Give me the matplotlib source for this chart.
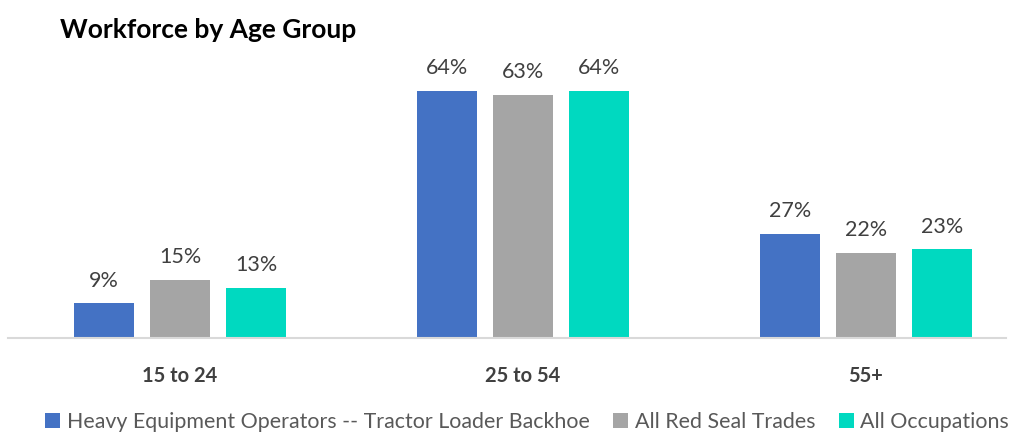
import matplotlib
matplotlib.use("Agg")
import matplotlib.pyplot as plt
from matplotlib.patches import Patch
import numpy as np

categories = ["15 to 24", "25 to 54", "55+"]
series_names = ["Heavy Equipment Operators -- Tractor Loader Backhoe",
                "All Red Seal Trades", "All Occupations"]
heavy = [9, 64, 27]
red_seal = [15, 63, 22]
all_occ = [13, 64, 23]
colors = ["#4472C4", "#A5A5A5", "#00D9C0"]

plt.rcParams['font.family'] = ['Lato', 'DejaVu Sans']

fig = plt.figure(figsize=(10.13, 4.44), dpi=100)
ax = fig.add_axes([8/1013, 1-338/444, 998/1013, 270/444])

x = np.arange(len(categories))
w = 60/343
off = 76/343
for i, (vals, c) in enumerate(zip([heavy, red_seal, all_occ], colors)):
    pos = x + (i-1)*off
    bars = ax.bar(pos, vals, width=w, color=c, zorder=2)
    for b, v in zip(bars, vals):
        ax.text(b.get_x()+b.get_width()/2, v + 3.3, f"{v}%", ha='center', va='bottom',
                fontsize=15.5, color='#404040')

ax.set_xlim((8-180)/343, (1006-180)/343)
ax.set_ylim(0, 70)
ax.set_yticks([])
ax.set_xticks(x)
ax.set_xticklabels(categories, fontsize=14.5, fontweight='bold', color='#404040')
ax.tick_params(axis='x', length=0, pad=20)
for s in ['top', 'right', 'left']:
    ax.spines[s].set_visible(False)
ax.spines['bottom'].set_color('#D9D9D9')
ax.spines['bottom'].set_linewidth(1.5)

fig.text(60/1013, 1-30/444, "Workforce by Age Group", fontsize=19, fontweight='bold',
         color='black', ha='left', va='center')

handles = [Patch(facecolor=c, edgecolor='none') for c in colors]
fig.legend(handles, series_names, loc='center', bbox_to_anchor=(527/1013, 1-422/444),
           ncol=3, frameon=False, fontsize=15.4, handlelength=0.7, handleheight=0.7,
           handletextpad=0.3, columnspacing=1.1, labelcolor='#595959')

fig.savefig("out.png", dpi=100)
